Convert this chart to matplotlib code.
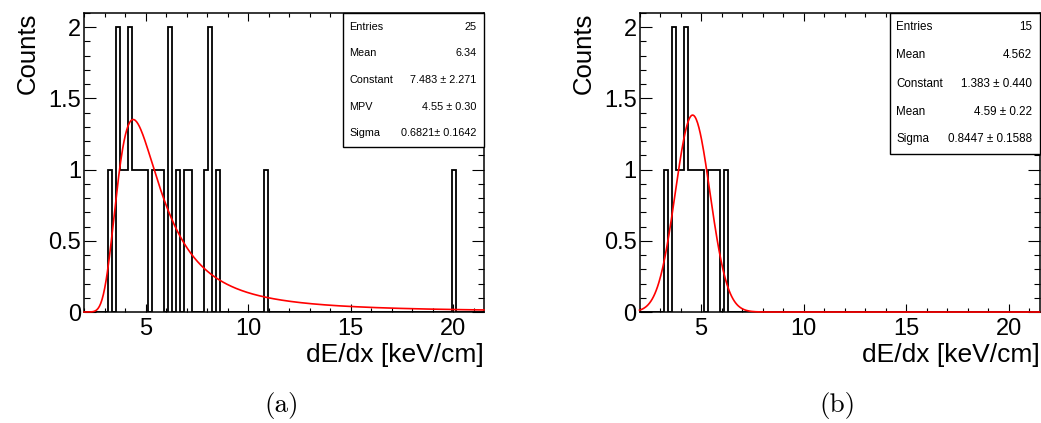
import numpy as np
import matplotlib.pyplot as plt
from matplotlib.patches import Rectangle
from matplotlib.ticker import MultipleLocator, FuncFormatter

plt.rcParams['font.family'] = ['Liberation Sans', 'DejaVu Sans']

# ==== data ====
# histogram: 100 bins over [2, 21.5]
n_bins = 100
x_range = (2.0, 21.5)

dedx_a = [3.27, 3.66, 3.66, 3.85, 4.05, 4.24, 4.24, 4.44, 4.63, 4.83, 5.02,
          5.41, 5.61, 5.80, 6.19, 6.19, 6.58, 6.97, 7.17, 7.95, 8.14, 8.14,
          8.53, 10.87, 20.04]
dedx_b = [3.27, 3.66, 3.66, 3.85, 4.05, 4.24, 4.24, 4.44, 4.63, 4.83, 5.02,
          5.41, 5.61, 5.80, 6.19]

# fit parameters
landau_const, landau_mpv, landau_sigma = 7.483, 4.55, 0.6821
gaus_const, gaus_mean, gaus_sigma = 1.383, 4.59, 0.8447

# stat boxes
stat_labels_a = ["Entries", "Mean", "Constant", "MPV", "Sigma"]
stat_values_a = ["25", "6.34", "7.483 \u00b1 2.271", "4.55 \u00b1 0.30", "0.6821\u00b1 0.1642"]
stat_labels_b = ["Entries", "Mean", "Constant", "Mean", "Sigma"]
stat_values_b = ["15", "4.562", "1.383 \u00b1 0.440", "4.59 \u00b1 0.22", "0.8447 \u00b1 0.1588"]


def landau(lam):
    # standard Landau density, p(l) = 1/pi * int exp(-pi t/2) cos(l t + t ln t) dt
    t = np.linspace(1e-9, 25, 15000)
    out = []
    for l in np.atleast_1d(lam):
        f = np.exp(-np.pi * t / 2) * np.cos(l * t + t * np.log(t))
        out.append(np.trapezoid(f, t) / np.pi)
    return np.array(out)


xf = np.linspace(x_range[0], x_range[1], 600)
fit_a = landau_const * landau((xf - landau_mpv) / landau_sigma)
fit_b = gaus_const * np.exp(-0.5 * ((xf - gaus_mean) / gaus_sigma) ** 2)

fig = plt.figure(figsize=(10.41, 4.23), dpi=100)
W, H = 1041, 423

panels = [
    (84, dedx_a, fit_a, stat_labels_a, stat_values_a, 342.7, 146.7,
     [26.7, 53.3, 80, 107.3, 133.3], 7.8, "(a)", 281.7),
    (639.5, dedx_b, fit_b, stat_labels_b, stat_values_b, 890, 154,
     [27.3, 55, 84, 112.3, 139.3], 8.4, "(b)", 837.7),
]

for left, vals, fit, labs, svals, box_x, box_bot, rows, fs, cap, cap_x in panels:
    ax = fig.add_axes([left / W, (H - 312) / H, 400 / W, 299 / H])
    counts, edges = np.histogram(vals, bins=n_bins, range=x_range)
    ax.stairs(counts, edges, color='black', lw=1.3, baseline=0, zorder=2)
    ax.plot(xf, fit, color='red', lw=1.2, zorder=3, clip_on=False)

    ax.set_xlim(*x_range)
    ax.set_ylim(0, 2.1)
    ax.xaxis.set_major_locator(MultipleLocator(5))
    ax.xaxis.set_minor_locator(MultipleLocator(1))
    ax.yaxis.set_major_locator(MultipleLocator(0.5))
    ax.yaxis.set_minor_locator(MultipleLocator(0.1))
    ax.yaxis.set_major_formatter(FuncFormatter(lambda v, p: "%g" % v))
    ax.tick_params(which='both', direction='in', top=True, right=True,
                   labelsize=17, width=0.8)
    ax.xaxis.set_tick_params(which='major', length=5.8, pad=4)
    ax.xaxis.set_tick_params(which='minor', length=2.9)
    ax.yaxis.set_tick_params(which='major', length=8.6, pad=2)
    ax.yaxis.set_tick_params(which='minor', length=4.3)
    for s in ax.spines.values():
        s.set_linewidth(1.1)

    ax.text(1.0, (312 - 362) / 299, "dE/dx [keV/cm]", transform=ax.transAxes,
            ha='right', va='baseline', fontsize=19)
    ax.text(-56 / 400, 1.0, "Counts", transform=ax.transAxes,
            rotation=90, ha='center', va='top', fontsize=18.5)

    # stat box
    bx0 = (box_x - left) / 400
    by0 = (312 - box_bot) / 299
    ax.add_patch(Rectangle((bx0, by0), 1 - bx0, 1 - by0, transform=ax.transAxes,
                           facecolor='white', edgecolor='black', lw=1.0,
                           clip_on=False, zorder=5))
    for r, lab, sv in zip(rows, labs, svals):
        yy = (312 - r) / 299
        ax.text(bx0 + 0.016, yy, lab, transform=ax.transAxes, ha='left',
                va='center', fontsize=fs, zorder=6)
        ax.text(0.982, yy, sv, transform=ax.transAxes, ha='right',
                va='center', fontsize=fs, zorder=6)

    fig.text(cap_x / W, (H - 405) / H, cap, fontfamily='cmr10', fontsize=19.5,
             ha='center', va='center')

fig.savefig("out.png", dpi=100)
